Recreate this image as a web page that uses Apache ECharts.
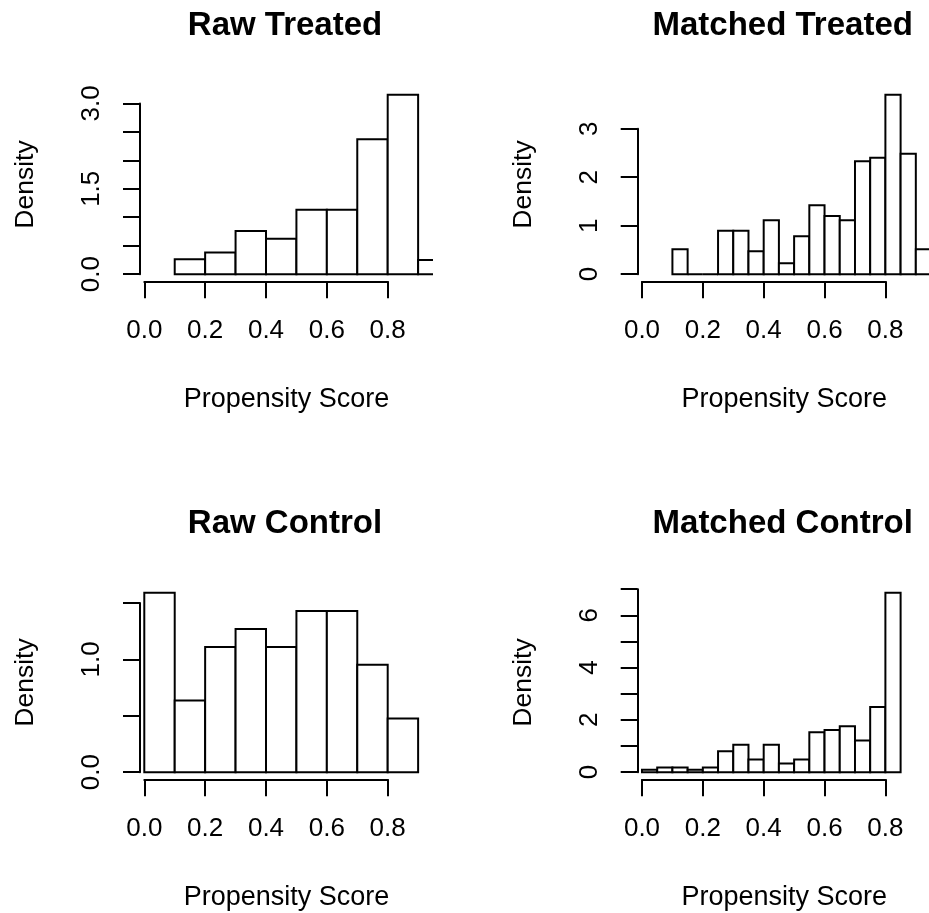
<!DOCTYPE html>
<html>
<head>
<meta charset="utf-8">
<script src="https://cdn.jsdelivr.net/npm/echarts@6/dist/echarts.min.js"></script>
<style>
html,body{margin:0;padding:0;background:#fff;}
#chart{width:929px;height:913px;}
</style>
</head>
<body>
<div id="chart"></div>
<script>
// ---------- data ----------
const panelTitles = ['Raw Treated', 'Matched Treated', 'Raw Control', 'Matched Control'];
const xAxisTitle = 'Propensity Score';
const yAxisTitle = 'Density';
const xTickLabels = ['0.0', '0.2', '0.4', '0.6', '0.8'];

const rawTreatedEdges = [0.1, 0.2, 0.3, 0.4, 0.5, 0.6, 0.7, 0.8, 0.9, 1.0];
const rawTreatedDensity = [0.26, 0.38, 0.76, 0.62, 1.13, 1.13, 2.37, 3.15, 0.25];
const rawTreatedYLabels = ['0.0', '', '', '1.5', '', '', '3.0'];

const matchedTreatedEdges = [0.10, 0.15, 0.20, 0.25, 0.30, 0.35, 0.40, 0.45, 0.50, 0.55, 0.60, 0.65, 0.70, 0.75, 0.80, 0.85, 0.90, 0.95];
const matchedTreatedDensity = [0.515, 0, 0, 0.895, 0.895, 0.47, 1.11, 0.225, 0.78, 1.42, 1.20, 1.11, 2.33, 2.40, 3.70, 2.485, 0.515];
const matchedTreatedYLabels = ['0', '1', '2', '3'];

const rawControlEdges = [0.0, 0.1, 0.2, 0.3, 0.4, 0.5, 0.6, 0.7, 0.8, 0.9];
const rawControlDensity = [1.59, 0.635, 1.11, 1.27, 1.11, 1.43, 1.43, 0.952, 0.476];
const rawControlYLabels = ['0.0', '', '1.0', ''];

const matchedControlEdges = [0.00, 0.05, 0.10, 0.15, 0.20, 0.25, 0.30, 0.35, 0.40, 0.45, 0.50, 0.55, 0.60, 0.65, 0.70, 0.75, 0.80, 0.85];
const matchedControlDensity = [0.09, 0.18, 0.18, 0.09, 0.18, 0.80, 1.045, 0.485, 1.045, 0.33, 0.485, 1.53, 1.61, 1.76, 1.21, 2.49, 6.86];
const matchedControlYLabels = ['0', '', '2', '', '4', '', '6', ''];

// ---------- layout / style ----------
const FONT = '"Liberation Sans", Arial, Helvetica, sans-serif';
const INK = '#000';
const LW = 2;
const DX = 497.7, DY = 498;
const BOX = { L: 140, R: 433, T: 87.7, B: 281.3 };
const XLIM = [-0.0141, 0.9489];
const X_AXIS_MAX = 0.8, X_STEP = 0.2;

const panels = [
  { title: panelTitles[0], edges: rawTreatedEdges, dens: rawTreatedDensity, yLabels: rawTreatedYLabels, yStep: 0.5, col: 0, row: 0 },
  { title: panelTitles[1], edges: matchedTreatedEdges, dens: matchedTreatedDensity, yLabels: matchedTreatedYLabels, yStep: 1, col: 1, row: 0 },
  { title: panelTitles[2], edges: rawControlEdges, dens: rawControlDensity, yLabels: rawControlYLabels, yStep: 0.5, col: 0, row: 1 },
  { title: panelTitles[3], edges: matchedControlEdges, dens: matchedControlDensity, yLabels: matchedControlYLabels, yStep: 1, col: 1, row: 1 }
];

const option = {
  animation: false,
  backgroundColor: '#fff',
  title: [], grid: [], xAxis: [], yAxis: [], series: []
};

const hidden = { axisLine: { show: false }, axisTick: { show: false }, axisLabel: { show: false }, splitLine: { show: false } };
const lineSt = { color: INK, width: LW };

panels.forEach(p => {
  const ox = p.col * DX, oy = p.row * DY;
  const L = BOX.L + ox, R = BOX.R + ox, T = BOX.T + oy, B = BOX.B + oy;
  const ymax = Math.max(...p.dens);
  const ylo = -0.04 * ymax, yhi = 1.04 * ymax;
  const px = v => L + (v - XLIM[0]) / (XLIM[1] - XLIM[0]) * (R - L);
  const py = v => B - (v - ylo) / (yhi - ylo) * (B - T);
  const yTop = p.yStep * (p.yLabels.length - 1);

  option.title.push({
    text: p.title, left: (L + R) / 2 - 1.5, top: 9 + oy, textAlign: 'center', padding: 0,
    textStyle: { fontFamily: FONT, fontSize: 33, fontWeight: 'bold', color: INK }
  });

  // data grid (plot region)
  const gData = option.grid.length;
  option.grid.push({ left: L, top: T, width: R - L, height: B - T, containLabel: false, outerBoundsMode: 'none' });
  option.xAxis.push(Object.assign({
    type: 'value', gridIndex: gData, min: XLIM[0], max: XLIM[1],
    name: xAxisTitle, nameLocation: 'middle', nameGap: 104.5,
    nameTextStyle: { fontFamily: FONT, fontSize: 27, color: INK }
  }, hidden));
  option.yAxis.push(Object.assign({
    type: 'value', gridIndex: gData, min: ylo, max: yhi,
    name: yAxisTitle, nameLocation: 'middle', nameRotate: 90, nameGap: 100.5,
    nameTextStyle: { fontFamily: FONT, fontSize: 26.5, color: INK }
  }, hidden));

  // axis grid (R-style axes spanning first to last tick)
  const gAx = option.grid.length;
  option.grid.push({ left: px(0), top: py(yTop), width: px(X_AXIS_MAX) - px(0), height: py(0) - py(yTop), containLabel: false, outerBoundsMode: 'none' });
  option.xAxis.push({
    type: 'value', gridIndex: gAx, min: 0, max: X_AXIS_MAX, interval: X_STEP, position: 'bottom',
    offset: B - py(0),
    axisLine: { show: true, onZero: false, lineStyle: lineSt },
    axisTick: { show: true, length: 17, lineStyle: lineSt },
    axisLabel: { show: true, margin: 37, fontFamily: FONT, fontSize: 26, color: INK, hideOverlap: false,
      formatter: v => xTickLabels[Math.round(v / X_STEP)] },
    splitLine: { show: false }
  });
  option.yAxis.push({
    type: 'value', gridIndex: gAx, min: 0, max: yTop, interval: p.yStep, position: 'left',
    offset: px(0) - L,
    axisLine: { show: true, onZero: false, lineStyle: lineSt },
    axisTick: { show: true, length: 17, lineStyle: lineSt },
    axisLabel: { show: true, rotate: 90, margin: 35, fontFamily: FONT, fontSize: 26, color: INK, hideOverlap: false,
      formatter: v => p.yLabels[Math.round(v / p.yStep)] },
    splitLine: { show: false }
  });

  option.series.push({
    type: 'custom', xAxisIndex: gData, yAxisIndex: gData, clip: true, silent: true,
    encode: { x: [0, 1], y: 2 },
    data: p.dens.map((d, k) => [p.edges[k], p.edges[k + 1], d]),
    renderItem: (params, api) => {
      const a = api.coord([api.value(0), api.value(2)]);
      const b = api.coord([api.value(1), 0]);
      return {
        type: 'polygon',
        shape: { points: [[a[0], b[1]], [a[0], a[1]], [b[0], a[1]], [b[0], b[1]]] },
        style: { fill: '#fff', stroke: INK, lineWidth: LW }
      };
    }
  });
});

const chart = echarts.init(document.getElementById('chart'), null, { renderer: 'canvas' });
chart.setOption(option);
</script>
</body>
</html>
